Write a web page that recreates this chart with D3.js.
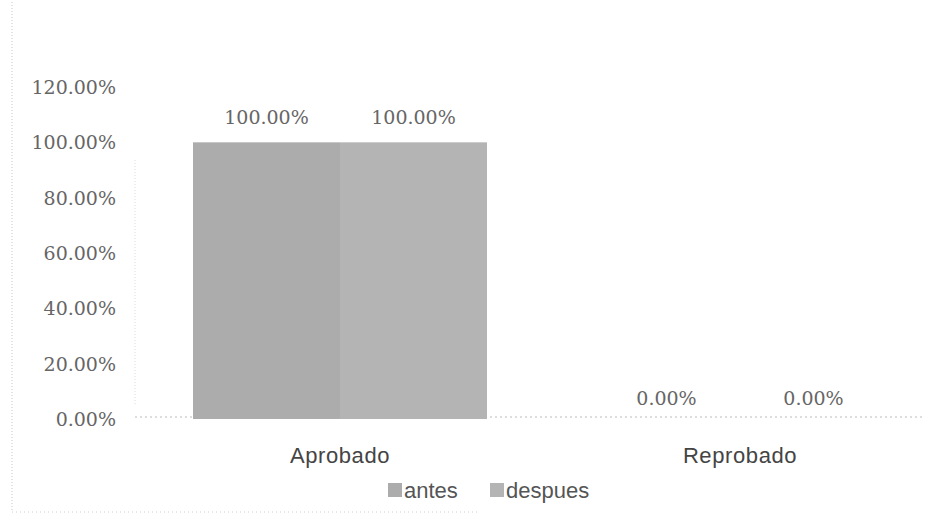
<!DOCTYPE html>
<html><head><meta charset="utf-8">
<script src="https://cdn.jsdelivr.net/npm/d3@7"></script>
<style>body{margin:0;background:#fff}svg{display:block}</style>
</head><body>
<script>
const categories = ["Aprobado", "Reprobado"];
const seriesNames = ["antes", "despues"];
const antes = [1.0, 0.0];
const despues = [1.0, 0.0];
const yTicks = [0, 0.2, 0.4, 0.6, 0.8, 1.0, 1.2];
const colors = {antes: "#acacac", despues: "#b4b4b4"};

const W = 951, H = 529;
const svg = d3.select("body").append("svg").attr("width", W).attr("height", H);

// chart border (faint, dotted like the scan)
svg.append("line").attr("x1", 12).attr("x2", 12).attr("y1", 2).attr("y2", 512)
  .attr("stroke", "#c8c8c8").attr("stroke-dasharray", "1,2");
svg.append("line").attr("x1", 12).attr("x2", 480).attr("y1", 512).attr("y2", 512)
  .attr("stroke", "#d0d0d0").attr("stroke-dasharray", "1,3");

const x0 = d3.scaleBand().domain(categories).range([140, 940]).paddingInner(0.265).paddingOuter(0.1325);
const x1 = d3.scaleBand().domain(seriesNames).range([0, x0.bandwidth()]);
const y = d3.scaleLinear().domain([0, 1.2]).range([419, 87]);

const fmt = d3.format(".2%");
const serif = "'DejaVu Serif', serif";
const sans = "'Liberation Sans', Arial, sans-serif";

// y axis
const yAxis = svg.append("g").attr("transform", "translate(116,0)")
  .call(d3.axisLeft(y).tickValues(yTicks).tickFormat(fmt).tickSize(0).tickPadding(0));
yAxis.select(".domain").remove();
yAxis.selectAll("text").attr("font-family", serif).attr("font-size", 19)
  .attr("fill", "#666").attr("dy", "0.35em");

// faint vertical line
svg.append("line").attr("x1", 135).attr("x2", 135).attr("y1", 160).attr("y2", 405)
  .attr("stroke", "#dcdcdc").attr("stroke-dasharray", "1,2");

// baseline
svg.append("line").attr("x1", 135).attr("x2", 922).attr("y1", y(0) - 2).attr("y2", y(0) - 2)
  .attr("stroke", "#bbb").attr("stroke-dasharray", "2,3");

const data = categories.map((c, i) => ({cat: c, vals: [{k: "antes", v: antes[i]}, {k: "despues", v: despues[i]}]}));

const g = svg.selectAll("g.cat").data(data).enter().append("g")
  .attr("transform", d => `translate(${x0(d.cat)},0)`);
g.selectAll("rect").data(d => d.vals).enter().append("rect")
  .attr("x", d => x1(d.k)).attr("width", x1.bandwidth())
  .attr("y", d => y(d.v)).attr("height", d => y(0) - y(d.v))
  .attr("fill", d => colors[d.k]);
g.selectAll("text.lbl").data(d => d.vals).enter().append("text")
  .attr("class", "lbl")
  .attr("x", d => x1(d.k) + x1.bandwidth() / 2)
  .attr("y", d => y(d.v) - (d.v > 0 ? 25 : 21))
  .attr("dy", "0.35em")
  .attr("text-anchor", "middle")
  .attr("font-family", serif).attr("font-size", 19).attr("fill", "#666")
  .text(d => fmt(d.v));

// x axis labels
const xAxis = svg.append("g").attr("transform", "translate(0,419)")
  .call(d3.axisBottom(x0).tickSize(0).tickPadding(0));
xAxis.select(".domain").remove();
xAxis.selectAll("text").attr("font-family", sans).attr("font-size", 22)
  .attr("fill", "#444").attr("y", 36).attr("dy", "0.35em").attr("letter-spacing", "0.6px");

// legend
const legend = svg.append("g").attr("transform", "translate(388,490)");
const li = legend.selectAll("g").data(seriesNames).enter().append("g")
  .attr("transform", (d, i) => `translate(${i * 102},0)`);
li.append("rect").attr("x", 0).attr("y", -7).attr("width", 14).attr("height", 14)
  .attr("fill", d => colors[d]);
li.append("text").attr("x", 16).attr("y", 0).attr("dy", "0.35em")
  .attr("font-family", sans).attr("font-size", 22).attr("fill", "#555")
  .text(d => d);
</script>
</body></html>
